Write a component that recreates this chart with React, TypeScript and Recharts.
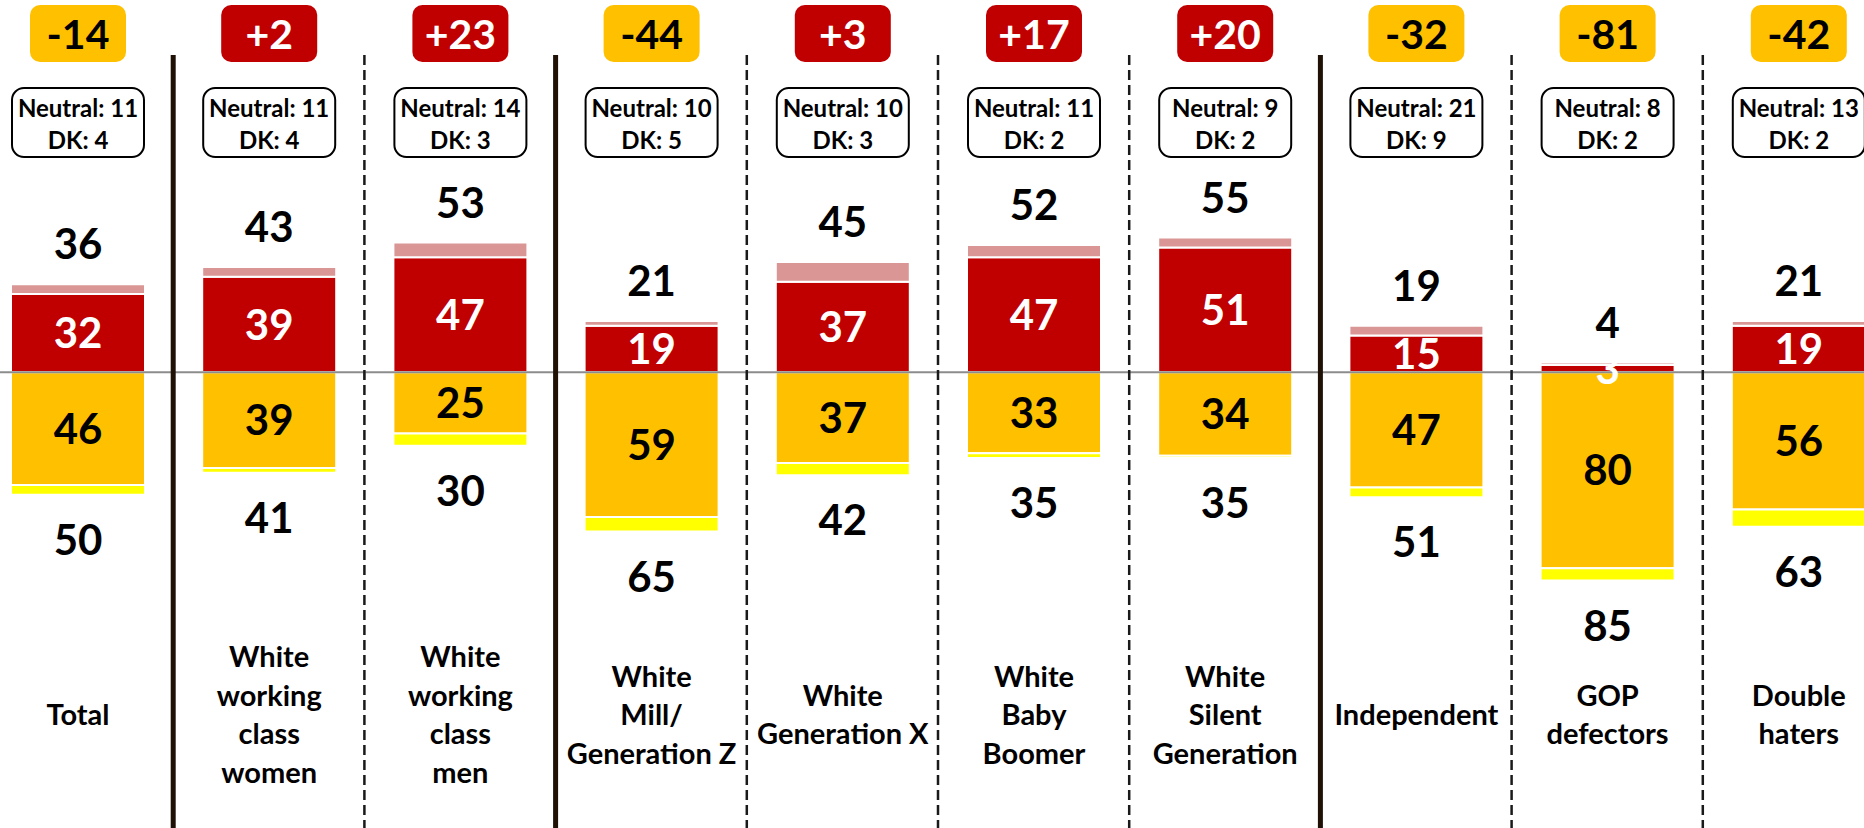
import { BarChart, Bar, XAxis, YAxis, ReferenceLine, LabelList } from 'recharts'

const categories = [
  'Total',
  'White working class women',
  'White working class men',
  'White Mill/Generation Z',
  'White Generation X',
  'White Baby Boomer',
  'White Silent Generation',
  'Independent',
  'GOP defectors',
  'Double haters',
]

// tick labels, one entry per line
const categoryLines = [
  ['Total'],
  ['White', 'working', 'class', 'women'],
  ['White', 'working', 'class', 'men'],
  ['White', 'Mill/', 'Generation Z'],
  ['White', 'Generation X'],
  ['White', 'Baby', 'Boomer'],
  ['White', 'Silent', 'Generation'],
  ['Independent'],
  ['GOP', 'defectors'],
  ['Double', 'haters'],
]

const favStrong = [32, 39, 47, 19, 37, 47, 51, 15, 3, 19]
const favTotal = [36, 43, 53, 21, 45, 52, 55, 19, 4, 21]
const unfavStrong = [46, 39, 25, 59, 37, 33, 34, 47, 80, 56]
const unfavTotal = [50, 41, 30, 65, 42, 35, 35, 51, 85, 63]
const netScores = [-14, 2, 23, -44, 3, 17, 20, -32, -81, -42]
const neutral = [11, 11, 14, 10, 10, 11, 9, 21, 8, 13]
const dontKnow = [4, 4, 3, 5, 3, 2, 2, 9, 2, 2]

// separators after these category indexes are solid, the rest dashed
const solidAfter = [0, 2, 6]

const data = categories.map((cat, i) => ({
  cat,
  favStrong: favStrong[i],
  favWeak: favTotal[i] - favStrong[i],
  unfavStrong: -unfavStrong[i],
  unfavWeak: -(unfavTotal[i] - unfavStrong[i]),
}))

const FONT = 'Lato, "Open Sans", sans-serif'
const RED = '#C00000'
const PINK = '#D99694'
const GOLD = '#FFC000'
const YELLOW = '#FFFF00'

// eslint-disable-next-line @typescript-eslint/no-explicit-any
function rectOf(p: any) {
  const vb = p.viewBox && p.viewBox.width !== undefined ? p.viewBox : p
  const x = Number(vb.x)
  const y = Number(vb.y)
  const w = Number(vb.width)
  const h = Number(vb.height)
  return { cx: x + w / 2, top: Math.min(y, y + h), bottom: Math.max(y, y + h) }
}

// eslint-disable-next-line @typescript-eslint/no-explicit-any
function HeaderBoxes(p: any) {
  const { cx } = rectOf(p)
  const i = p.index
  const net = netScores[i]
  const pos = net > 0
  return (
    <g>
      <rect x={cx - 48} y={5} width={96} height={57} rx={10} fill={pos ? RED : GOLD} />
      <text x={cx} y={49} textAnchor="middle" fontFamily={FONT} fontWeight={700} fontSize={41}
        fill={pos ? '#fff' : '#000'}>
        {pos ? `+${net}` : `${net}`}
      </text>
      <rect x={cx - 66} y={88} width={132} height={69} rx={12} fill="#fff" stroke="#000" strokeWidth={2} />
      <text x={cx} y={117} textAnchor="middle" fontFamily={FONT} fontWeight={700} fontSize={24} fill="#000">
        {`Neutral: ${neutral[i]}`}
      </text>
      <text x={cx} y={149} textAnchor="middle" fontFamily={FONT} fontWeight={700} fontSize={24} fill="#000">
        {`DK: ${dontKnow[i]}`}
      </text>
    </g>
  )
}

// eslint-disable-next-line @typescript-eslint/no-explicit-any
function InnerLabel(p: any, color: string) {
  const { cx, top, bottom } = rectOf(p)
  return (
    <text x={cx} y={(top + bottom) / 2 + 15} textAnchor="middle" fontFamily={FONT} fontWeight={700}
      fontSize={42} fill={color}>
      {Math.abs(Number(p.value))}
    </text>
  )
}

// eslint-disable-next-line @typescript-eslint/no-explicit-any
function FavTotalLabel(p: any) {
  const { cx, top } = rectOf(p)
  return (
    <text x={cx} y={top - 25} textAnchor="middle" fontFamily={FONT} fontWeight={700} fontSize={42} fill="#000">
      {favTotal[p.index]}
    </text>
  )
}

// eslint-disable-next-line @typescript-eslint/no-explicit-any
function UnfavTotalLabel(p: any) {
  const { cx, bottom } = rectOf(p)
  return (
    <text x={cx} y={bottom + 60} textAnchor="middle" fontFamily={FONT} fontWeight={700} fontSize={42} fill="#000">
      {unfavTotal[p.index]}
    </text>
  )
}

// eslint-disable-next-line @typescript-eslint/no-explicit-any
function CategoryLabel(p: any) {
  const { cx } = rectOf(p)
  const lines = categoryLines[p.index]
  const lineH = 38.5
  const first = 715 - ((lines.length - 1) * lineH) / 2
  return (
    <text textAnchor="middle" fontFamily={FONT} fontWeight={700} fontSize={29} fill="#000">
      {lines.map((l, k) => (
        <tspan key={k} x={cx} y={first + k * lineH + 10}>{l}</tspan>
      ))}
    </text>
  )
}

export default function App() {
  return (
    <div style={{ position: 'fixed', left: 0, top: 0, width: 1864, height: 828, overflow: 'hidden', background: '#fff' }}>
      <div style={{ position: 'absolute', left: -18, top: 0 }}>
        <BarChart
          width={1912}
          height={828}
          data={data}
          stackOffset="sign"
          barSize={134}
          margin={{ top: 0, right: 0, bottom: 0, left: 0 }}
        >
          <XAxis dataKey="cat" hide />
          <YAxis hide domain={[-186, 152]} allowDataOverflow />
          <Bar dataKey="favStrong" stackId="a" fill={RED} stroke="#fff" strokeWidth={2} isAnimationActive={false}>
            <LabelList dataKey="favStrong" content={(p) => InnerLabel(p, '#fff')} />
            <LabelList dataKey="favStrong" content={HeaderBoxes} />
          </Bar>
          <Bar dataKey="favWeak" stackId="a" fill={PINK} stroke="#fff" strokeWidth={2} isAnimationActive={false}>
            <LabelList dataKey="favWeak" content={FavTotalLabel} />
          </Bar>
          <Bar dataKey="unfavStrong" stackId="a" fill={GOLD} stroke="#fff" strokeWidth={2} isAnimationActive={false}>
            <LabelList dataKey="unfavStrong" content={(p) => InnerLabel(p, '#000')} />
          </Bar>
          <Bar dataKey="unfavWeak" stackId="a" fill={YELLOW} stroke="#fff" strokeWidth={2} isAnimationActive={false}>
            <LabelList dataKey="unfavWeak" content={UnfavTotalLabel} />
            <LabelList dataKey="cat" content={CategoryLabel} />
          </Bar>
          <ReferenceLine y={0} stroke="#8C8C8C" strokeWidth={2} />
          {categories.map((c) => (
            <ReferenceLine
              key={`tick-${c}`}
              segment={[{ x: c, y: 0 }, { x: c, y: -3 }]}
              position="start"
              stroke="#8C8C8C"
              strokeWidth={2}
            />
          ))}
          {categories.slice(0, -1).map((c, i) => (
            <ReferenceLine
              key={`sep-${c}`}
              segment={[{ x: c, y: 129.5 }, { x: c, y: -186 }]}
              position="end"
              stroke={solidAfter.includes(i) ? '#1F1106' : '#1A1A1A'}
              strokeWidth={solidAfter.includes(i) ? 5 : 2.5}
              strokeDasharray={solidAfter.includes(i) ? undefined : '10 5'}
            />
          ))}
        </BarChart>
      </div>
    </div>
  )
}
